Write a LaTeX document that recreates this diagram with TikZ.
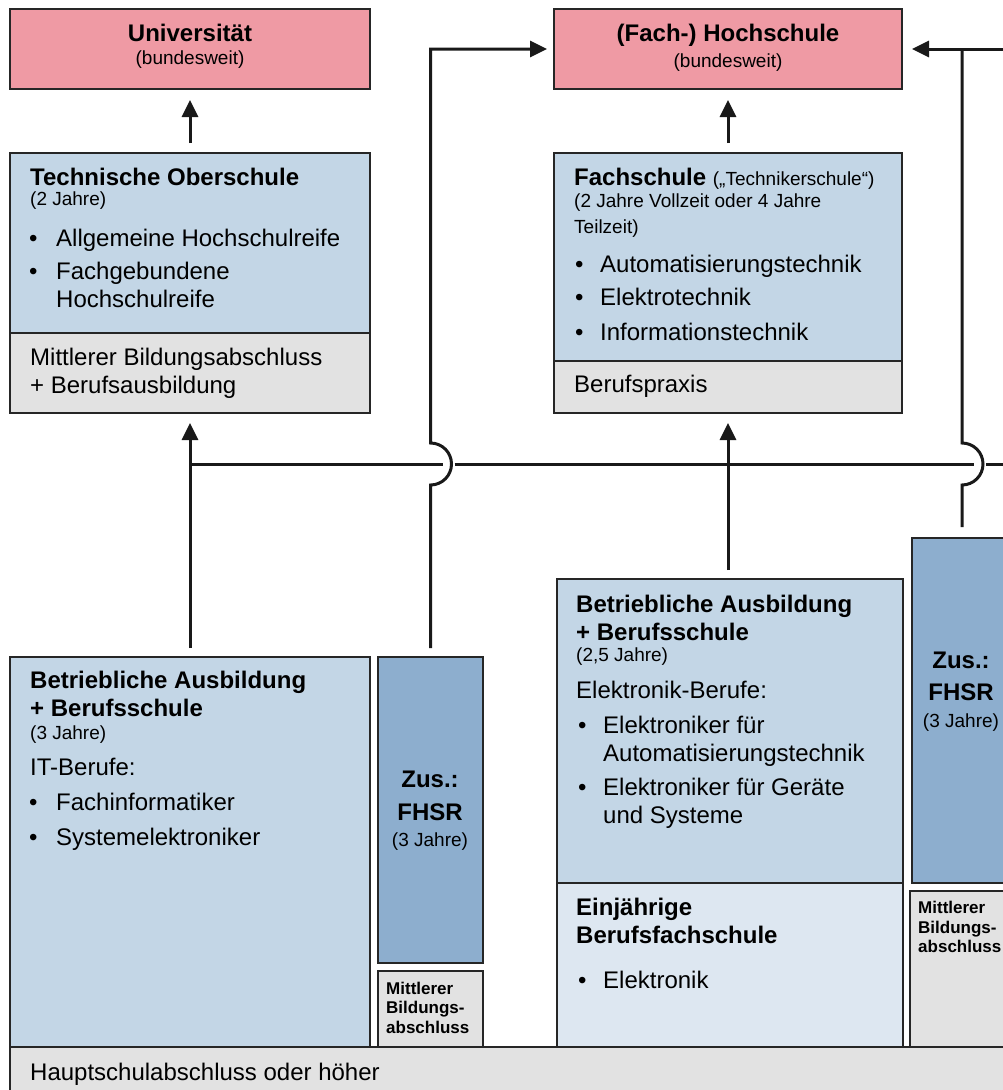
\documentclass[tikz,border=0pt]{standalone}
\usepackage{fontspec}
\setmainfont{Liberation Sans}
\usetikzlibrary{arrows.meta}
\definecolor{cpink}{HTML}{EF9AA4}
\definecolor{cblue}{HTML}{C3D6E6}
\definecolor{cdblue}{HTML}{8DAECE}
\definecolor{clblue}{HTML}{DDE7F1}
\definecolor{cgray}{HTML}{E2E2E2}
\definecolor{cline}{HTML}{262626}
\begin{document}
\begin{tikzpicture}[x=1pt,y=-1pt,
  box/.style={draw=cline, line width=2.3pt, inner sep=0pt, outer sep=0pt, anchor=north west},
  tl/.style={font=\fontsize{24}{28}\selectfont, inner sep=0pt, anchor=base west},
  tb/.style={font=\bfseries\fontsize{24}{28}\selectfont, inner sep=0pt, anchor=base west},
  ts/.style={font=\fontsize{19}{22}\selectfont, inner sep=0pt, anchor=base west},
  tm/.style={font=\bfseries\fontsize{17}{20}\selectfont, inner sep=0pt, anchor=base west},
  conn/.style={line width=3pt, draw=black!90},
  arr/.style={conn, -{Triangle[length=17pt,width=16pt]}},
]
\useasboundingbox (0,0) rectangle (1003,1090);
\clip (0,0) rectangle (1003,1090);
\fill[white] (0,0) rectangle (1003,1090);

% boxes
\node[box, fill=cpink, minimum width=360pt, minimum height=80pt] (uni) at (10,9) {};
\node[box, fill=cpink, minimum width=348pt, minimum height=80pt] (fh) at (554,9) {};
\node[box, fill=cblue, minimum width=360pt, minimum height=180pt] (tos) at (10,153) {};
\node[box, fill=cgray, minimum width=360pt, minimum height=80pt] (tosg) at (10,333) {};
\node[box, fill=cblue, minimum width=348pt, minimum height=208pt] (fs) at (554,153) {};
\node[box, fill=cgray, minimum width=348pt, minimum height=52pt] (fsg) at (554,361) {};
\node[box, fill=cblue, minimum width=360pt, minimum height=390pt] (ba1) at (10,657) {};
\node[box, fill=cdblue, minimum width=105pt, minimum height=306pt] (fh1) at (378,657) {};
\node[box, fill=cgray, minimum width=105pt, minimum height=76pt] (mb1) at (378,971) {};
\node[box, fill=cblue, minimum width=346pt, minimum height=304pt] (ba2) at (557,579) {};
\node[box, fill=clblue, minimum width=346pt, minimum height=164pt] (ej) at (557,883) {};
\node[box, fill=cdblue, minimum width=100pt, minimum height=345pt] (fh2) at (912,538) {};
\node[box, fill=cgray, minimum width=102pt, minimum height=156pt] (mb2) at (910,891) {};
\node[box, fill=cgray, minimum width=1002pt, minimum height=50pt] (hs) at (10,1047) {};

% texts: top boxes
\node[tb, anchor=base] (uniT1) at (190,41) {Universität};
\node[ts, anchor=base] (uniT2) at (190,64) {(bundesweit)};
\node[tb, anchor=base] (fhT1) at (728,41) {(Fach-) Hochschule};
\node[ts, anchor=base] (fhT2) at (728,67) {(bundesweit)};

% Technische Oberschule
\node[tb] (toT1) at (30,185) {Technische Oberschule};
\node[ts] (toT2) at (30,205) {(2 Jahre)};
\node[tl] (toB1) at (29,246) {•};
\node[tl] (toT3) at (56,246) {Allgemeine Hochschulreife};
\node[tl] (toB2) at (29,279) {•};
\node[tl] (toT4) at (56,279) {Fachgebundene};
\node[tl] (toT5) at (56,307) {Hochschulreife};
\node[tl] (toT6) at (30,365) {Mittlerer Bildungsabschluss};
\node[tl] (toT7) at (30,393) {+ Berufsausbildung};

% Fachschule
\node[tb] (fsT1) at (574,185) {Fachschule {\mdseries\fontsize{19}{22}\selectfont („Technikerschule“)}};
\node[ts] (fsT2) at (574,207) {(2 Jahre Vollzeit oder 4 Jahre};
\node[ts] (fsT3) at (574,233) {Teilzeit)};
\node[tl] (fsB1) at (575,272) {•};
\node[tl] (fsT4) at (600,272) {Automatisierungstechnik};
\node[tl] (fsB2) at (575,305) {•};
\node[tl] (fsT5) at (600,305) {Elektrotechnik};
\node[tl] (fsB3) at (575,340) {•};
\node[tl] (fsT6) at (600,340) {Informationstechnik};
\node[tl] (fsT7) at (574,392) {Berufspraxis};

% Betriebliche Ausbildung (links)
\node[tb] (baT1) at (30,688) {Betriebliche Ausbildung};
\node[tb] (baT2) at (30,716) {+ Berufsschule};
\node[ts] (baT3) at (30,739) {(3 Jahre)};
\node[tl] (baT4) at (30,775) {IT-Berufe:};
\node[tl] (baB1) at (29,810) {•};
\node[tl] (baT5) at (56,810) {Fachinformatiker};
\node[tl] (baB2) at (29,845) {•};
\node[tl] (baT6) at (56,845) {Systemelektroniker};

% FHSR links
\node[tb, anchor=base] (f1T1) at (430,787) {Zus.:};
\node[tb, anchor=base] (f1T2) at (430,820) {FHSR};
\node[ts, anchor=base] (f1T3) at (430,846) {(3 Jahre)};
\node[tm] (m1T1) at (386,994) {Mittlerer};
\node[tm] (m1T2) at (386,1013) {Bildungs-};
\node[tm] (m1T3) at (386,1033) {abschluss};

% Betriebliche Ausbildung (rechts)
\node[tb] (b2T1) at (576,612) {Betriebliche Ausbildung};
\node[tb] (b2T2) at (576,640) {+ Berufsschule};
\node[ts] (b2T3) at (576,661) {(2,5 Jahre)};
\node[tl] (b2T4) at (576,698) {Elektronik-Berufe:};
\node[tl] (b2B1) at (578,733) {•};
\node[tl] (b2T5) at (603,733) {Elektroniker für};
\node[tl] (b2T6) at (603,761) {Automatisierungstechnik};
\node[tl] (b2B2) at (578,795) {•};
\node[tl] (b2T7) at (603,795) {Elektroniker für Geräte};
\node[tl] (b2T8) at (603,823) {und Systeme};

% Einjaehrige
\node[tb] (ejT1) at (576,915) {Einjährige};
\node[tb] (ejT2) at (576,943) {Berufsfachschule};
\node[tl] (ejB1) at (578,988) {•};
\node[tl] (ejT3) at (603,988) {Elektronik};

% FHSR rechts
\node[tb, anchor=base] (f2T1) at (961,668) {Zus.:};
\node[tb, anchor=base] (f2T2) at (961,700) {FHSR};
\node[ts, anchor=base] (f2T3) at (961,727) {(3 Jahre)};
\node[tm] (m2T1) at (918,913) {Mittlerer};
\node[tm] (m2T2) at (918,933) {Bildungs-};
\node[tm] (m2T3) at (918,952) {abschluss};

% Hauptschule
\node[tl] (hsT) at (30,1080) {Hauptschulabschluss oder höher};

% connectors
\coordinate (hR) at (1010,464);
\coordinate (tR) at (1010,49);
\coordinate (j1) at (fh1.north |- hR);
\coordinate (j2) at (fh2.north |- hR);

\draw[arr, shorten <=10pt, shorten >=11pt] (tos.north) -- (uni.south);
\draw[arr, shorten <=10pt, shorten >=11pt] (fs.north) -- (fh.south);
\draw[arr, shorten <=9pt, shorten >=10pt] (ba1.north) -- (tosg.south);
\draw[arr, shorten <=9pt, shorten >=10pt] (fsg.south |- ba2.north) -- (fsg.south);

\draw[conn] (ba1.north |- hR) -- ([shift={(12,0)}]j1);
\draw[conn] ([shift={(24,0)}]j1) -- ([shift={(12,0)}]j2);
\draw[conn] ([shift={(24,0)}]j2) -- (hR);

\draw[arr, shorten <=9pt, shorten >=7pt] (fh1.north) -- ([shift={(0,21)}]j1)
  arc[start angle=90, end angle=-90, radius=21]
  -- (fh1.north |- fh.west) -- (fh.west);

\draw[conn, shorten <=11pt] (fh2.north) -- ([shift={(0,21)}]j2)
  arc[start angle=90, end angle=-90, radius=21]
  -- (fh2.north |- tR);
\draw[arr, shorten >=10pt] (tR) -- (fh.east);
\end{tikzpicture}
\end{document}
